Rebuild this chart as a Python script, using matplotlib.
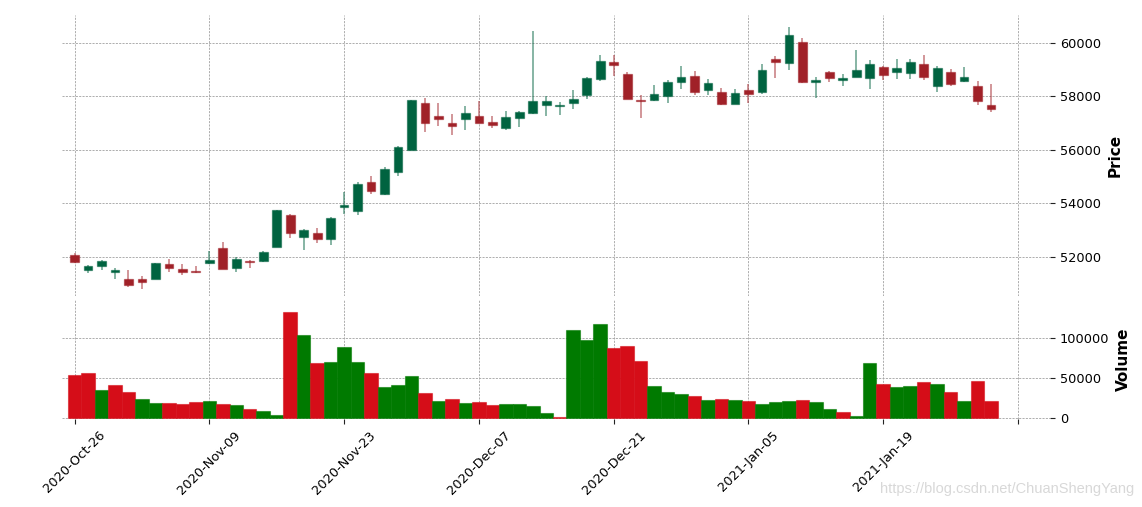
import matplotlib
matplotlib.use("Agg")
import matplotlib.pyplot as plt
from matplotlib.patches import Rectangle
from matplotlib.colors import to_rgba

# ---------------- data ----------------
opens = [52053, 51503, 51653, 51418, 51178, 51167, 51156, 51728, 51552, 51466,
         51765, 52326, 51567, 51851, 51851, 52352, 53560, 52726, 52887, 52651,
         53859, 53720, 54793, 54356, 55156, 55978, 57757, 57260, 56998, 57159,
         57260, 57036, 56812, 57174, 57372, 57660, 57623, 57757, 58045, 58643,
         59290, 58830, 57858, 57847, 57996, 58520, 58766, 58232, 58157, 57720,
         58232, 58168, 59379, 59241, 60026, 58531, 58916, 58594, 58729, 58692,
         59103, 58905, 58867, 59215, 58381, 58916, 58580, 58381, 57683]
highs = [52128, 51690, 51877, 51589, 51492, 51279, 51770, 51926, 51717, 51653,
         52214, 52561, 51990, 51865, 52214, 53740, 53597, 53025, 53074, 53485,
         54419, 54793, 55017, 55343, 56139, 57850, 57933, 57746, 57335, 57623,
         57832, 57271, 57447, 57458, 60437, 58008, 57783, 58221, 58718, 59551,
         59529, 58894, 58034, 58419, 58594, 59129, 58931, 58632, 58307, 58269,
         58467, 59215, 59503, 60587, 60176, 58729, 58953, 58830, 59727, 59342,
         59118, 59402, 59379, 59540, 59129, 59028, 59092, 58557, 58456]
lows = [51754, 51401, 51492, 51167, 50879, 50782, 51150, 51440, 51328, 51401,
        51739, 51550, 51429, 51567, 51802, 52345, 52689, 52262, 52524, 52449,
        53608, 53571, 54345, 54318, 55028, 55970, 56662, 56897, 56550, 56748,
        56987, 56823, 56726, 56838, 57346, 57271, 57309, 57533, 57896, 58557,
        58766, 57880, 57185, 57821, 57746, 58281, 58034, 58034, 57660, 57715,
        57746, 58094, 58692, 58980, 58505, 57922, 58531, 58393, 58725, 58281,
        58617, 58654, 58654, 58617, 58168, 58393, 58542, 57660, 57421]
closes = [51791, 51653, 51829, 51492, 50954, 51055, 51765, 51578, 51429, 51418,
          51877, 51552, 51926, 51802, 52188, 53735, 52875, 52988, 52662, 53447,
          53934, 54707, 54457, 55268, 56101, 57847, 57010, 57148, 56897, 57383,
          57010, 56924, 57223, 57410, 57810, 57832, 57671, 57896, 58680, 59305,
          59178, 57884, 57810, 58082, 58542, 58718, 58168, 58505, 57720, 58109,
          58082, 58991, 59267, 60299, 58531, 58594, 58680, 58669, 58968, 59215,
          58804, 59066, 59267, 58729, 59066, 58445, 58718, 57821, 57510]
volumes = [54200, 56300, 34800, 41500, 32700, 23900, 18400, 18800, 17200, 19700,
           21000, 17900, 15900, 11600, 8700, 3700, 132100, 104300, 68900, 69300,
           89100, 69300, 56300, 38100, 41500, 52500, 30600, 21000, 23900, 18800,
           20100, 15400, 16700, 17600, 15000, 5800, 800, 110600, 97100, 117700,
           87900, 90400, 71000, 39900, 31800, 30200, 27300, 22200, 23900, 22600,
           21000, 17200, 19700, 21000, 22600, 19700, 11600, 7100, 2400, 68100,
           42400, 39000, 40300, 45300, 42800, 32300, 20500, 45700, 21000]

tick_positions = [0, 10, 20, 30, 40, 50, 60, 70]
tick_labels = ["2020-Oct-26", "2020-Nov-09", "2020-Nov-23", "2020-Dec-07",
               "2020-Dec-21", "2021-Jan-05", "2021-Jan-19", ""]
price_ticks = [52000, 54000, 56000, 58000, 60000]
volume_ticks = [0, 50000, 100000]

# ---------------- style ----------------
UP, DOWN = "#006340", "#a02128"
VUP, VDOWN = "#007a00", "#d50d18"
GRID = dict(color="#a0a0a0", linestyle=(0, (2.5, 1.5)), linewidth=0.6)

fig = plt.figure(figsize=(11.42, 5.07), dpi=100)
axp = fig.add_axes([0.0543, 0.4162, 0.8651, 0.5542])
axv = fig.add_axes([0.0543, 0.1736, 0.8651, 0.2347], sharex=axp)

n = len(opens)
bw = 0.65
for i in range(n):
    o, h, l, c = opens[i], highs[i], lows[i], closes[i]
    col = UP if c >= o else DOWN
    axp.vlines(i, l, h, color=to_rgba(col, 0.6), linewidth=1.1, zorder=2)
    axp.add_patch(Rectangle((i - bw / 2, min(o, c)), bw, max(abs(c - o), 8),
                            facecolor=col, edgecolor=to_rgba(col, 0.55),
                            linewidth=0.9, zorder=3))

vcols = []
for i in range(n):
    ref = closes[i - 1] if i > 0 else opens[0]
    vcols.append(VUP if closes[i] >= ref else VDOWN)
axv.bar(range(n), volumes, width=1.0, color=vcols,
        edgecolor=[to_rgba(c, 0.55) for c in vcols], linewidth=0.8, zorder=3)

axp.set_xlim(-0.93, 72.37)
axp.set_ylim(50530, 61035)
axv.set_ylim(-1500, 147600)

for ax in (axp, axv):
    for s in ax.spines.values():
        s.set_visible(False)
    ax.grid(True, **GRID)
    ax.set_axisbelow(True)
    ax.yaxis.tick_right()
    ax.yaxis.set_label_position("right")
    ax.tick_params(axis="y", labelsize=9.3, colors="#222222", labelcolor="black")

axp.set_yticks(price_ticks)
axp.set_yticklabels([str(v) for v in price_ticks])
axv.set_yticks(volume_ticks)
axv.set_yticklabels([str(v) for v in volume_ticks])

axp.tick_params(axis="x", bottom=False, labelbottom=False)
axv.set_xticks(tick_positions)
axv.set_xticklabels(tick_labels, rotation=45, ha="center", fontsize=9.3)
axv.tick_params(axis="x", colors="#222222", labelcolor="black")

axp.set_ylabel("Price", fontsize=11, fontweight="bold", labelpad=5)
axv.set_ylabel("Volume", fontsize=11, fontweight="bold", labelpad=5)

fig.text(0.9935, 0.035, "https://blog.csdn.net/ChuanShengYang", ha="right",
         va="center", fontsize=10.5, color="#d8d8d8", family="Liberation Sans")

fig.savefig("out.png", dpi=100)
